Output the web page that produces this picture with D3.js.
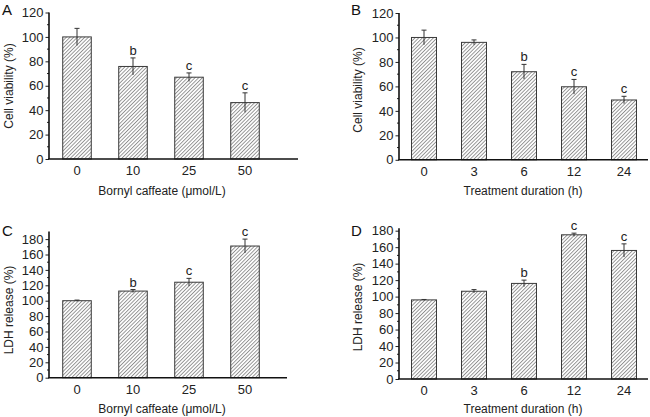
<!DOCTYPE html>
<html>
<head>
<meta charset="utf-8">
<script src="https://cdn.jsdelivr.net/npm/d3@7"></script>
<style>
  html, body { margin: 0; padding: 0; background: #fff; }
  svg { display: block; font-family: "Liberation Sans", Arial, sans-serif; }
</style>
</head>
<body>
<svg id="chart" width="650" height="417"></svg>
<script>
// ---- data ----
const concCategories = ["0", "10", "25", "50"];
const timeCategories = ["0", "3", "6", "12", "24"];

const viabilityConc = [100, 75.8, 67, 46.2];
const viabilityConcErr = [7, 7, 3.5, 8];
const viabilityConcSig = ["", "b", "c", "c"];

const viabilityTime = [100, 96, 72, 59.7, 48.9];
const viabilityTimeErr = [6, 2, 6, 6, 3];
const viabilityTimeSig = ["", "", "b", "c", "c"];

const ldhConc = [100, 112.5, 124, 171];
const ldhConcErr = [0.8, 2, 5, 9];
const ldhConcSig = ["", "b", "c", "c"];

const ldhTime = [96, 106.5, 116, 175, 156];
const ldhTimeErr = [0.5, 2, 4, 2, 8];
const ldhTimeSig = ["", "", "b", "c", "c"];

const viabilityTicks = [0, 20, 40, 60, 80, 100, 120];
const ldhTicks = [0, 20, 40, 60, 80, 100, 120, 140, 160, 180];

const svg = d3.select("#chart");

// hatch pattern
const defs = svg.append("defs");
const pat = defs.append("pattern")
  .attr("id", "hatch")
  .attr("patternUnits", "userSpaceOnUse")
  .attr("width", 2.6).attr("height", 10)
  .attr("patternTransform", "rotate(45)");
pat.append("line")
  .attr("x1", 0.5).attr("y1", 0).attr("x2", 0.5).attr("y2", 10)
  .attr("stroke", "#6a6a6a").attr("stroke-width", 0.75);

function panel(cfg) {
  const g = svg.append("g");
  const x = d3.scaleBand()
    .domain(cfg.categories)
    .range([cfg.axisX, cfg.axisX + cfg.step * cfg.categories.length])
    .paddingInner(cfg.padInner)
    .paddingOuter(cfg.padInner / 2);
  const y = d3.scaleLinear()
    .domain([0, cfg.yMax])
    .range([cfg.zeroY, cfg.zeroY - cfg.pxPerUnit * cfg.yMax]);

  const data = cfg.categories.map((c, i) => ({
    c, v: cfg.values[i], e: cfg.errors[i], s: cfg.sig[i]
  }));

  // bars
  g.selectAll("rect.bar").data(data).enter().append("rect")
    .attr("class", "bar")
    .attr("x", d => x(d.c))
    .attr("y", d => y(d.v))
    .attr("width", x.bandwidth())
    .attr("height", d => y(0) - y(d.v))
    .attr("fill", "url(#hatch)")
    .attr("stroke", "#3a3a3a")
    .attr("stroke-width", 1);

  // error bars
  const cap = 2.5;
  data.forEach(d => {
    const cx = x(d.c) + x.bandwidth() / 2;
    g.append("line")
      .attr("x1", cx).attr("x2", cx)
      .attr("y1", y(d.v - d.e)).attr("y2", y(d.v + d.e))
      .attr("stroke", "#333").attr("stroke-width", 1);
    g.append("line")
      .attr("x1", cx - cap).attr("x2", cx + cap)
      .attr("y1", y(d.v + d.e)).attr("y2", y(d.v + d.e))
      .attr("stroke", "#333").attr("stroke-width", 1);
    if (d.s) {
      g.append("text")
        .attr("x", cx)
        .attr("y", y(d.v + d.e) - 3)
        .attr("text-anchor", "middle")
        .attr("font-size", 13)
        .attr("fill", "#222")
        .text(d.s);
    }
  });

  // y axis
  const yAxis = d3.axisLeft(y)
    .tickValues(cfg.ticks)
    .tickSize(3.5)
    .tickPadding(2)
    .tickFormat(d3.format("d"));
  const ya = g.append("g")
    .attr("transform", `translate(${cfg.axisX},0)`)
    .call(yAxis);
  ya.select(".domain").remove();
  ya.selectAll("text").attr("font-size", cfg.tickFont).attr("fill", "#222")
    .attr("font-family", "Liberation Sans, Arial, sans-serif");
  ya.selectAll("line").attr("stroke", "#222");
  // minor ticks
  const minors = d3.range(cfg.minorStep, cfg.yMax, cfg.minorStep * 2);
  g.selectAll("line.minor").data(minors).enter().append("line")
    .attr("class", "minor")
    .attr("x1", cfg.axisX - 2).attr("x2", cfg.axisX)
    .attr("y1", d => y(d)).attr("y2", d => y(d))
    .attr("stroke", "#222");
  g.append("line")
    .attr("x1", cfg.axisX).attr("x2", cfg.axisX)
    .attr("y1", y(0)).attr("y2", y(cfg.yMax))
    .attr("stroke", "#111").attr("stroke-width", 1.6);

  // x axis
  const xAxis = d3.axisBottom(x).tickSize(0).tickPadding(7);
  const xa = g.append("g")
    .attr("transform", `translate(0,${cfg.zeroY})`)
    .call(xAxis);
  xa.select(".domain").remove();
  xa.selectAll("text").attr("font-size", 13).attr("fill", "#222")
    .attr("font-family", "Liberation Sans, Arial, sans-serif");
  g.append("line")
    .attr("x1", cfg.axisX - 0.8).attr("x2", cfg.xEnd)
    .attr("y1", cfg.zeroY).attr("y2", cfg.zeroY)
    .attr("stroke", "#111").attr("stroke-width", 1.6);

  // titles
  g.append("text")
    .attr("x", cfg.xTitleX).attr("y", cfg.xTitleY)
    .attr("text-anchor", "middle")
    .attr("font-size", 12).attr("fill", "#222")
    .text(cfg.xTitle);
  g.append("text")
    .attr("transform", `translate(${cfg.yTitleX},${cfg.yTitleY}) rotate(-90)`)
    .attr("text-anchor", "middle")
    .attr("font-size", 12).attr("fill", "#222")
    .text(cfg.yTitle);
  g.append("text")
    .attr("x", cfg.letterX).attr("y", cfg.letterY)
    .attr("font-size", 15).attr("fill", "#111")
    .text(cfg.letter);
}

panel({
  letter: "A", letterX: 2, letterY: 15,
  categories: concCategories, values: viabilityConc, errors: viabilityConcErr, sig: viabilityConcSig,
  axisX: 49, step: 56, padInner: 0.49, xEnd: 298,
  zeroY: 159, pxPerUnit: 146.5 / 120, yMax: 120, ticks: viabilityTicks, minorStep: 10, tickFont: 13,
  xTitle: "Bornyl caffeate (\u03bcmol/L)", xTitleX: 162, xTitleY: 195,
  yTitle: "Cell viability (%)", yTitleX: 13, yTitleY: 86
});

panel({
  letter: "B", letterX: 351, letterY: 15,
  categories: timeCategories, values: viabilityTime, errors: viabilityTimeErr, sig: viabilityTimeSig,
  axisX: 399, step: 50, padInner: 0.5, xEnd: 648,
  zeroY: 159.8, pxPerUnit: 146.8 / 120, yMax: 120, ticks: viabilityTicks, minorStep: 10, tickFont: 13,
  xTitle: "Treatment duration (h)", xTitleX: 523, xTitleY: 195,
  yTitle: "Cell viability (%)", yTitleX: 362, yTitleY: 90
});

panel({
  letter: "C", letterX: 2, letterY: 236,
  categories: concCategories, values: ldhConc, errors: ldhConcErr, sig: ldhConcSig,
  axisX: 49, step: 56, padInner: 0.49, xEnd: 287,
  zeroY: 377.7, pxPerUnit: 0.77, yMax: 190, ticks: ldhTicks, minorStep: 10, tickFont: 13,
  xTitle: "Bornyl caffeate (\u03bcmol/L)", xTitleX: 162, xTitleY: 413,
  yTitle: "LDH release (%)", yTitleX: 13, yTitleY: 310
});

panel({
  letter: "D", letterX: 351, letterY: 236,
  categories: timeCategories, values: ldhTime, errors: ldhTimeErr, sig: ldhTimeSig,
  axisX: 399, step: 50, padInner: 0.5, xEnd: 648,
  zeroY: 379, pxPerUnit: 0.824, yMax: 183, ticks: ldhTicks, minorStep: 10, tickFont: 13,
  xTitle: "Treatment duration (h)", xTitleX: 523, xTitleY: 413,
  yTitle: "LDH release (%)", yTitleX: 362, yTitleY: 307
});
</script>
</body>
</html>
